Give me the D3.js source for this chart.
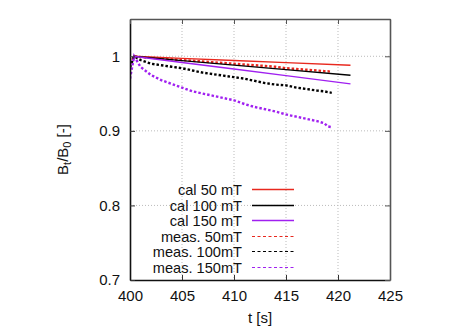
<html>
<head>
<meta charset="UTF-8">
<script src="https://d3js.org/d3.v7.min.js"></script>
<style>
  body { margin: 0; background: #fff; }
  svg { display: block; font-family: "Liberation Sans", Arial, sans-serif; }
</style>
</head>
<body>
<svg width="471" height="330"></svg>
<script>
// ---- data ----
var xTicks = [400, 405, 410, 415, 420, 425];
var yTicks = [0.7, 0.8, 0.9, 1];

var calTime = [400.3, 405, 410, 415, 421.2];
var cal50  = [1.0, 0.9972, 0.9944, 0.9915, 0.988];
var cal100 = [1.0, 0.9942, 0.9882, 0.9821, 0.9745];
var cal150 = [1.0, 0.9917, 0.9829, 0.9741, 0.963];

var measTime = [400, 400.4, 401, 402, 403, 404, 405, 406, 407, 408, 409, 410,
                411, 412, 413, 414, 415, 416, 417, 418, 418.7, 419, 419.4];
var meas50  = [0.990, 1.0, 0.999, 0.998, 0.997, 0.996, 0.995, 0.994, 0.993, 0.992, 0.991, 0.990,
               0.989, 0.988, 0.987, 0.986, 0.984, 0.983, 0.982, 0.981, 0.980, 0.980, 0.979];
var meas100 = [0.985, 1.0, 0.995, 0.990, 0.988, 0.986, 0.984, 0.981, 0.978, 0.976, 0.974, 0.972,
               0.970, 0.967, 0.964, 0.962, 0.961, 0.958, 0.956, 0.954, 0.953, 0.952, 0.951];
var meas150 = [0.970, 1.0, 0.986, 0.975, 0.968, 0.963, 0.958, 0.953, 0.950, 0.947, 0.944, 0.941,
               0.936, 0.932, 0.929, 0.926, 0.922, 0.919, 0.916, 0.913, 0.910, 0.906, 0.905];

var seriesNames = ["cal 50 mT", "cal 100 mT", "cal 150 mT", "meas. 50mT", "meas. 100mT", "meas. 150mT"];
var seriesColors = ["#e8281e", "#000000", "#a020f0", "#e8281e", "#000000", "#a020f0"];

var margin = {top: 19, left: 130, right: 81, bottom: 50};
var width = 471, height = 330;
var graphwidth = width - margin.left - margin.right;
var graphheight = height - margin.top - margin.bottom;

var xScale = d3.scaleLinear().domain([400, 425]).range([0, graphwidth]);
var yScale = d3.scaleLinear().domain([0.7, 1.05]).range([graphheight, 0]);

var svg = d3.select("svg");
var plot = svg.append("g")
  .attr("transform", "translate(" + margin.left + "," + margin.top + ")");

// grid
plot.selectAll(".gx").data(xTicks.slice(1, -1)).enter().append("line")
  .attr("x1", d => xScale(d)).attr("x2", d => xScale(d))
  .attr("y1", 0).attr("y2", graphheight)
  .attr("stroke", "#bbb").attr("stroke-width", 1).attr("stroke-dasharray", "1,2");
plot.selectAll(".gy").data(yTicks.slice(1)).enter().append("line")
  .attr("x1", 0).attr("x2", graphwidth)
  .attr("y1", d => yScale(d)).attr("y2", d => yScale(d))
  .attr("stroke", "#bbb").attr("stroke-width", 1).attr("stroke-dasharray", "1,2");

// data
plot.append("clipPath").attr("id", "clip").append("rect")
  .attr("width", graphwidth).attr("height", graphheight);
var lines = plot.append("g").attr("clip-path", "url(#clip)");

function draw(tArr, vArr, color, dashed) {
  var line = d3.line().x((d, i) => xScale(tArr[i])).y(d => yScale(d));
  lines.append("path").datum(vArr)
    .attr("d", line)
    .attr("fill", "none")
    .attr("stroke", color)
    .attr("stroke-width", dashed ? 2.4 : 1.4)
    .attr("stroke-dasharray", dashed ? "2.5,2" : null);
}
draw(measTime, meas50, seriesColors[3], true);
draw(measTime, meas100, seriesColors[4], true);
draw(measTime, meas150, seriesColors[5], true);
draw(calTime, cal50, seriesColors[0], false);
draw(calTime, cal100, seriesColors[1], false);
draw(calTime, cal150, seriesColors[2], false);

// axes (gnuplot style: inward ticks, mirrored)
var xAxis = d3.axisBottom(xScale).tickValues(xTicks).tickSizeInner(-5).tickSizeOuter(0).tickPadding(10);
var yAxis = d3.axisLeft(yScale).tickValues(yTicks).tickSizeInner(-5).tickSizeOuter(0).tickPadding(10)
  .tickFormat(d => d === 1 ? "1" : d3.format(".1f")(d));

var gx = plot.append("g").attr("transform", "translate(0," + graphheight + ")").call(xAxis);
var gy = plot.append("g").call(yAxis);
var gxTop = plot.append("g").call(d3.axisTop(xScale).tickValues(xTicks).tickSizeInner(-5).tickSizeOuter(0).tickFormat(""));
var gyRight = plot.append("g").attr("transform", "translate(" + graphwidth + ",0)")
  .call(d3.axisRight(yScale).tickValues(yTicks).tickSizeInner(-5).tickSizeOuter(0).tickFormat(""));

[gx, gy].forEach(g => {
  g.selectAll("text").attr("font-size", 15).attr("fill", "#111").attr("font-family", "Liberation Sans, Arial, sans-serif");
  g.selectAll("line").attr("stroke", "#333");
  g.select(".domain").attr("stroke", "#111").attr("stroke-width", 1.6);
});
[gxTop, gyRight].forEach(g => {
  g.selectAll("line").attr("stroke", "#555");
  g.select(".domain").attr("stroke", "#555").attr("stroke-width", 1.6);
});

// axis labels
svg.append("text")
  .attr("x", margin.left + graphwidth / 2).attr("y", 323)
  .attr("text-anchor", "middle").attr("font-size", 15).attr("fill", "#111")
  .text("t [s]");

var yl = svg.append("text")
  .attr("transform", "translate(68," + (margin.top + graphheight / 2) + ") rotate(-90)")
  .attr("text-anchor", "middle").attr("font-size", 15).attr("fill", "#111");
yl.append("tspan").text("B");
yl.append("tspan").attr("baseline-shift", "-30%").attr("font-size", 11).text("t");
yl.append("tspan").text("/B");
yl.append("tspan").attr("baseline-shift", "-30%").attr("font-size", 11).text("0");
yl.append("tspan").text(" [-]");

// legend
var legend = svg.append("g");
var rows = legend.selectAll("g").data(seriesNames).enter().append("g")
  .attr("transform", (d, i) => "translate(0," + (Math.round(189 + i * 15.6) + 0.5) + ")");
rows.append("text")
  .attr("x", 242).attr("y", 5)
  .attr("text-anchor", "end").attr("font-size", 14.6).attr("fill", "#111")
  .text(d => d);
rows.append("line")
  .attr("x1", 252).attr("x2", 294).attr("y1", 0).attr("y2", 0)
  .attr("stroke", (d, i) => seriesColors[i])
  .attr("stroke-width", (d, i) => i < 3 ? 1.4 : 1.2)
  .attr("stroke-dasharray", (d, i) => i < 3 ? null : "3,2.5");
</script>
</body>
</html>
